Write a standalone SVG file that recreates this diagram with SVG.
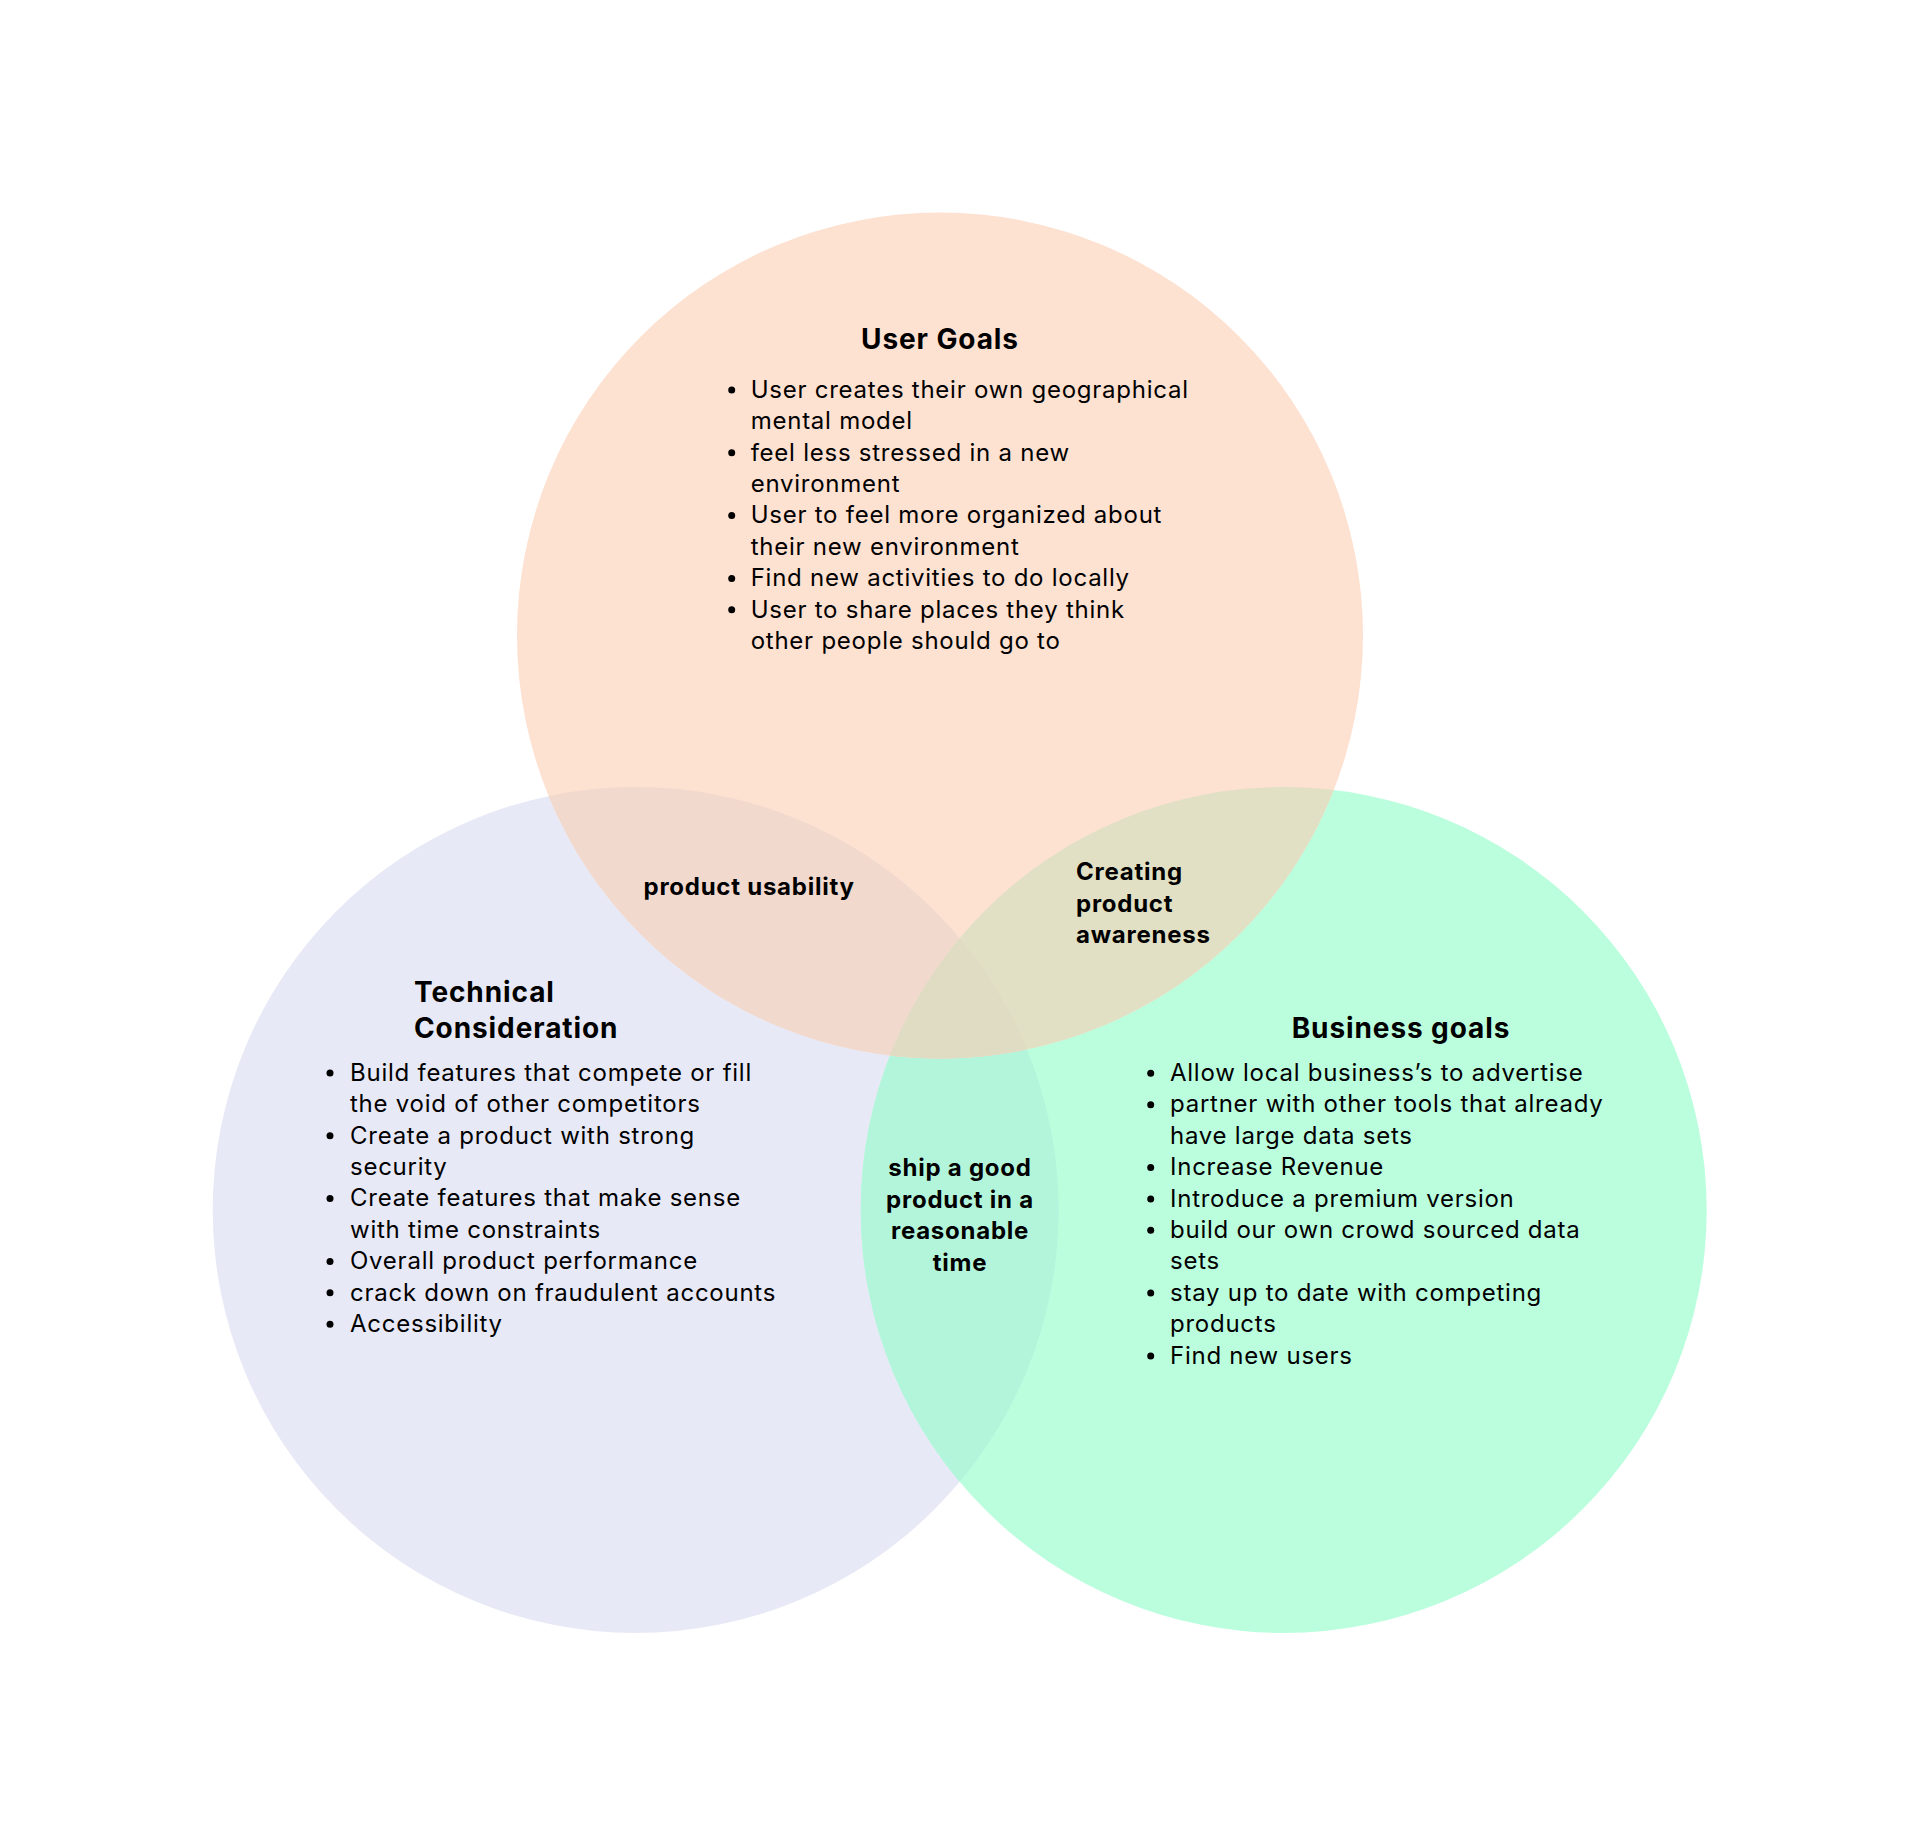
<svg xmlns="http://www.w3.org/2000/svg" width="1920" height="1846" viewBox="0 0 1920 1846">
<style>
  text { font-family: Inter, "Noto Sans", "Liberation Sans", sans-serif; fill: #000000; }
  .title { font-size: 28px; font-weight: 700; letter-spacing: 0.9px; }
  .body { font-size: 24px; font-weight: 400; letter-spacing: 0.75px; }
  .lbl { font-size: 24px; font-weight: 700; letter-spacing: 0.75px; }
  .dot { fill: #000000; }
</style>
<defs>
  <clipPath id="cTech"><circle cx="635.7" cy="1210" r="423"/></clipPath>
  <clipPath id="cBiz"><circle cx="1283.7" cy="1210" r="423"/></clipPath>
</defs>
<rect x="0" y="0" width="1920" height="1846" fill="#ffffff"/>
<g id="circles">
  <circle id="tech-circle" cx="635.7" cy="1210" r="423" fill="#E8E9F6"/>
  <circle id="biz-circle" cx="1283.7" cy="1210" r="423" fill="#BBFEDE"/>
  <circle cx="1283.7" cy="1210" r="423" fill="#B3F5DB" clip-path="url(#cTech)"/>
  <circle id="user-circle" cx="940" cy="635.5" r="423" fill="#FDE1D1"/>
  <circle cx="940" cy="635.5" r="423" fill="#F2D9CE" clip-path="url(#cTech)"/>
  <circle cx="940" cy="635.5" r="423" fill="#E1E0C4" clip-path="url(#cBiz)"/>
  <g clip-path="url(#cTech)">
    <circle cx="940" cy="635.5" r="423" fill="#E0DCC4" clip-path="url(#cBiz)"/>
  </g>
</g>
<g id="user-goals">
  <text class="title" x="940" y="349" text-anchor="middle">User Goals</text>
  <circle class="dot" cx="731.7" cy="390" r="3.5"/>
  <circle class="dot" cx="731.7" cy="452.8" r="3.5"/>
  <circle class="dot" cx="731.7" cy="515.6" r="3.5"/>
  <circle class="dot" cx="731.7" cy="578.4" r="3.5"/>
  <circle class="dot" cx="731.7" cy="609.8" r="3.5"/>
  <text class="body" x="750.7" y="397.7">User creates their own geographical</text>
  <text class="body" x="750.7" y="429.1">mental model</text>
  <text class="body" x="750.7" y="460.5">feel less stressed in a new</text>
  <text class="body" x="750.7" y="491.9">environment</text>
  <text class="body" x="750.7" y="523.3">User to feel more organized about</text>
  <text class="body" x="750.7" y="554.7">their new environment</text>
  <text class="body" x="750.7" y="586.1">Find new activities to do locally</text>
  <text class="body" x="750.7" y="617.5">User to share places they think</text>
  <text class="body" x="750.7" y="648.9">other people should go to</text>
</g>
<g id="technical">
  <text class="title" x="414" y="1001.7">Technical</text>
  <text class="title" x="414" y="1037.5">Consideration</text>
  <circle class="dot" cx="330" cy="1073" r="3.5"/>
  <circle class="dot" cx="330" cy="1135.8" r="3.5"/>
  <circle class="dot" cx="330" cy="1198.6" r="3.5"/>
  <circle class="dot" cx="330" cy="1261.4" r="3.5"/>
  <circle class="dot" cx="330" cy="1292.8" r="3.5"/>
  <circle class="dot" cx="330" cy="1324.2" r="3.5"/>
  <text class="body" x="350" y="1080.7">Build features that compete or fill</text>
  <text class="body" x="350" y="1112.1">the void of other competitors</text>
  <text class="body" x="350" y="1143.5">Create a product with strong</text>
  <text class="body" x="350" y="1174.9">security</text>
  <text class="body" x="350" y="1206.3">Create features that make sense</text>
  <text class="body" x="350" y="1237.7">with time constraints</text>
  <text class="body" x="350" y="1269.1">Overall product performance</text>
  <text class="body" x="350" y="1300.5">crack down on fraudulent accounts</text>
  <text class="body" x="350" y="1331.9">Accessibility</text>
</g>
<g id="business">
  <text class="title" x="1401" y="1037.7" text-anchor="middle">Business goals</text>
  <circle class="dot" cx="1150.7" cy="1073.3" r="3.5"/>
  <circle class="dot" cx="1150.7" cy="1104.7" r="3.5"/>
  <circle class="dot" cx="1150.7" cy="1167.5" r="3.5"/>
  <circle class="dot" cx="1150.7" cy="1198.9" r="3.5"/>
  <circle class="dot" cx="1150.7" cy="1230.3" r="3.5"/>
  <circle class="dot" cx="1150.7" cy="1293.1" r="3.5"/>
  <circle class="dot" cx="1150.7" cy="1355.9" r="3.5"/>
  <text class="body" x="1170" y="1081">Allow local business’s to advertise</text>
  <text class="body" x="1170" y="1112.4">partner with other tools that already</text>
  <text class="body" x="1170" y="1143.8">have large data sets</text>
  <text class="body" x="1170" y="1175.2">Increase Revenue</text>
  <text class="body" x="1170" y="1206.6">Introduce a premium version</text>
  <text class="body" x="1170" y="1238">build our own crowd sourced data</text>
  <text class="body" x="1170" y="1269.4">sets</text>
  <text class="body" x="1170" y="1300.8">stay up to date with competing</text>
  <text class="body" x="1170" y="1332.2">products</text>
  <text class="body" x="1170" y="1363.6">Find new users</text>
</g>
<g id="product-usability">
  <text class="lbl" x="643.5" y="894.5">product usability</text>
</g>
<g id="product-awareness">
  <text class="lbl" x="1076" y="880">Creating</text>
  <text class="lbl" x="1076" y="911.5">product</text>
  <text class="lbl" x="1076" y="943">awareness</text>
</g>
<g id="ship-good-product">
  <text class="lbl" x="960" y="1176" text-anchor="middle">ship a good</text>
  <text class="lbl" x="960" y="1207.5" text-anchor="middle">product in a</text>
  <text class="lbl" x="960" y="1239" text-anchor="middle">reasonable</text>
  <text class="lbl" x="960" y="1270.5" text-anchor="middle">time</text>
</g>
<g id="connectors"></g>
</svg>
